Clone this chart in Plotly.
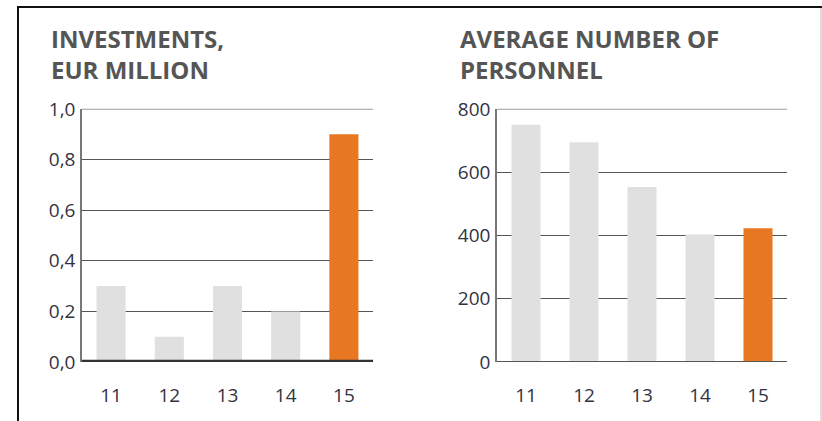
import plotly.graph_objects as go

categories = ["11", "12", "13", "14", "15"]
investments = [0.3, 0.1, 0.3, 0.2, 0.9]
personnel = [750, 695, 553, 403, 423]
inv_ticks = [0, 0.2, 0.4, 0.6, 0.8, 1.0]
inv_tick_labels = ["0,0", "0,2", "0,4", "0,6", "0,8", "1,0"]
pers_ticks = [0, 200, 400, 600, 800]
pers_tick_labels = ["0", "200", "400", "600", "800"]
title_left = ["INVESTMENTS,", "EUR MILLION"]
title_right = ["AVERAGE NUMBER OF", "PERSONNEL"]

W, H = 822, 421
GREY = "#e0e0e0"
ORANGE = "#e87722"
bar_colors = [GREY, GREY, GREY, GREY, ORANGE]

def px_x(v):
    return v / W

def px_y(v):
    return 1 - v / H

fig = go.Figure()
fig.add_trace(go.Bar(x=categories, y=investments, marker=dict(color=bar_colors, line=dict(width=0)),
                     width=0.5, xaxis="x", yaxis="y", hoverinfo="skip"))
fig.add_trace(go.Bar(x=categories, y=personnel, marker=dict(color=bar_colors, line=dict(width=0)),
                     width=0.5, xaxis="x2", yaxis="y2", hoverinfo="skip"))

tick_font = dict(family="Open Sans", size=19, color="#33333f")
title_font = dict(family="Open Sans", size=24, color="#555555")

ydom = [px_y(362), px_y(108.7)]
fig.update_layout(
    width=W, height=H,
    margin=dict(l=0, r=0, t=0, b=0, autoexpand=False),
    paper_bgcolor="white", plot_bgcolor="white",
    showlegend=False,
    xaxis=dict(domain=[px_x(82), px_x(373)], range=[-0.5, 4.5], showgrid=False, zeroline=False,
               showline=False, ticks="", tickfont=tick_font, ticklabelstandoff=20,
               automargin=False, fixedrange=True),
    yaxis=dict(domain=ydom, range=[0, 1.001], tickvals=inv_ticks, ticktext=inv_tick_labels,
               showgrid=True, gridcolor="#555555", gridwidth=1, zeroline=False,
               showline=True, linecolor="#777777", linewidth=1.5, ticks="",
               tickfont=tick_font, ticklabelstandoff=1, automargin=False, fixedrange=True),
    xaxis2=dict(domain=[px_x(497), px_x(787)], range=[-0.5, 4.5], showgrid=False, zeroline=False,
                showline=False, ticks="", tickfont=tick_font, ticklabelstandoff=20, anchor="y2",
                automargin=False, fixedrange=True),
    yaxis2=dict(domain=ydom, range=[0, 800.8], tickvals=pers_ticks, ticktext=pers_tick_labels,
                showgrid=True, gridcolor="#555555", gridwidth=1, zeroline=False,
                showline=True, linecolor="#777777", linewidth=1.5, ticks="",
                tickfont=tick_font, ticklabelstandoff=1, anchor="x2", automargin=False, fixedrange=True),
)

shapes = [
    # top gridlines (edge gridlines are clipped by plotly)
    dict(type="line", xref="x domain", yref="y", x0=0, x1=1, y0=inv_ticks[-1], y1=inv_ticks[-1],
         line=dict(color="#555555", width=1), layer="below"),
    dict(type="line", xref="x2 domain", yref="y2", x0=0, x1=1, y0=pers_ticks[-1], y1=pers_ticks[-1],
         line=dict(color="#555555", width=1), layer="below"),
    # zero lines
    dict(type="line", xref="x domain", yref="y", x0=0, x1=1, y0=0, y1=0,
         line=dict(color="#333333", width=4.5), layer="above"),
    dict(type="line", xref="x2 domain", yref="y2", x0=0, x1=1, y0=0, y1=0,
         line=dict(color="#555555", width=2), layer="above"),
    # frame
    dict(type="line", xref="paper", yref="paper", x0=px_x(17), x1=1, y0=px_y(7), y1=px_y(7),
         line=dict(color="#111111", width=2)),
    dict(type="line", xref="paper", yref="paper", x0=px_x(18), x1=px_x(18), y0=px_y(6), y1=0,
         line=dict(color="#111111", width=2)),
    dict(type="line", xref="paper", yref="paper", x0=px_x(821), x1=px_x(821), y0=px_y(8), y1=0,
         line=dict(color="#bbbbbb", width=1)),
]
fig.update_layout(shapes=shapes)

annotations = []
for i, t in enumerate(title_left):
    annotations.append(dict(text="<b>%s</b>" % t, xref="paper", yref="paper", x=px_x(49), y=px_y(20 + 31 * i),
                            xanchor="left", yanchor="top", showarrow=False, font=title_font))
for i, t in enumerate(title_right):
    annotations.append(dict(text="<b>%s</b>" % t, xref="paper", yref="paper", x=px_x(458), y=px_y(20 + 31 * i),
                            xanchor="left", yanchor="top", showarrow=False, font=title_font))
fig.update_layout(annotations=annotations)

fig.write_html("out.html", config={"displayModeBar": False, "responsive": False},
               post_script="document.body.style.margin='0';document.body.style.overflow='hidden';")
